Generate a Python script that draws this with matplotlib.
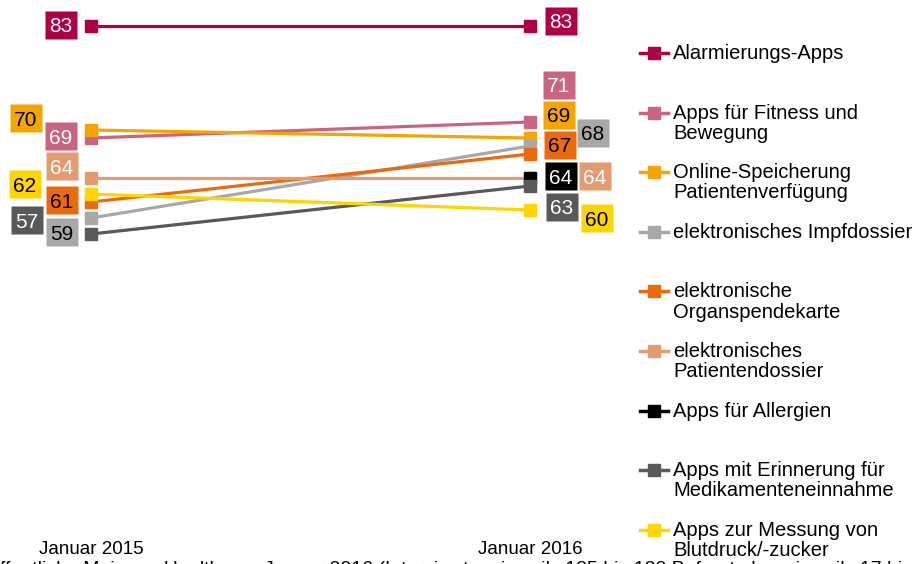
import numpy as np
import matplotlib
matplotlib.use("Agg")
import matplotlib.pyplot as plt
import matplotlib.transforms as mtransforms
from matplotlib.lines import Line2D
from matplotlib.path import Path

plt.rcParams["font.family"] = ["Liberation Sans", "DejaVu Sans"]

# --- data -------------------------------------------------------------
periods = ["Januar 2015", "Januar 2016"]
names = [
    "Alarmierungs-Apps",
    "Apps für Fitness und\nBewegung",
    "Online-Speicherung\nPatientenverfügung",
    "elektronisches Impfdossier",
    "elektronische\nOrganspendekarte",
    "elektronisches\nPatientendossier",
    "Apps für Allergien",
    "Apps mit Erinnerung für\nMedikamenteneinnahme",
    "Apps zur Messung von\nBlutdruck/-zucker",
]
values_2015 = [83, 69, 70, 59, 61, 64, np.nan, 57, 62]
values_2016 = [83, 71, 69, 68, 67, 64, 64, 63, 60]

# --- styles -----------------------------------------------------------
colors = ["#AE0045", "#C96580", "#F5A500", "#A8A8A8", "#EA6A0C",
          "#E39B72", "#000000", "#595959", "#FFD400"]
text_colors = ["white", "white", "black", "black", "black",
               "white", "white", "white", "black"]
# label box offsets from the marker, in pixels (dx, dy up)
offsets_2015 = [(-30, 1), (-30, 2), (-65, 12), (-29, -14), (-29, 2),
                (-29, 12), (0, 0), (-64, 14), (-66, 10)]
offsets_2016 = [(31, 5), (29, 37), (29, 23), (63, 13), (30, 9),
                (65, 2), (31, 2), (32, -21), (67, -8)]

W, H = 917, 564
fig = plt.figure(figsize=(W / 100, H / 100), dpi=100)
ax = fig.add_axes([0, 24 / H, 1, 540 / H])
ax.set_xlim(-91 / 439, (W - 91) / 439)
ax.set_ylim(18.75, 86.25)
for s in ax.spines.values():
    s.set_visible(False)
ax.set_yticks([])
ax.set_xticks([0, 1], periods)
ax.tick_params(axis="x", length=0, pad=1, labelsize=13.5)

box = Path([(-16, -14), (16, -14), (16, 14), (-16, 14), (-16, -14)],
           [Path.MOVETO, Path.LINETO, Path.LINETO, Path.LINETO, Path.CLOSEPOLY])

label_fs = 15
base_shift = -0.36 * label_fs * 100 / 72  # put digit centre on box centre

x = [0, 1]
for i in range(len(names)):
    ys = [values_2015[i], values_2016[i]]
    ax.plot(x, ys, color=colors[i], lw=2.3, marker="s", ms=8.7,
            mec=colors[i], solid_capstyle="butt", zorder=2 + i, clip_on=False)
    for xi, v, (dx, dy) in ((0, values_2015[i], offsets_2015[i]),
                            (1, values_2016[i], offsets_2016[i])):
        if np.isnan(v):
            continue
        tr = ax.transData + mtransforms.ScaledTranslation(dx / 100, dy / 100,
                                                          fig.dpi_scale_trans)
        ax.plot([xi], [v], marker=box, ms=23, color=colors[i], mec="none",
                transform=tr, zorder=20, clip_on=False)
        ttr = ax.transData + mtransforms.ScaledTranslation(
            dx / 100, (dy + base_shift) / 100, fig.dpi_scale_trans)
        ax.text(xi, v, f"{v:.0f}", transform=ttr, ha="center", va="baseline",
                color=text_colors[i], fontsize=label_fs, zorder=21)

# legend drawn by hand: one fixed-height slot per entry
leg_y0, leg_step = 53, 59.6
for i, name in enumerate(names):
    y = 1 - (leg_y0 + leg_step * i) / H
    fig.add_artist(Line2D([640 / W, 668 / W], [y, y], color=colors[i], lw=2.5))
    fig.add_artist(Line2D([654 / W], [y], marker="s", ms=9, color=colors[i]))
    fig.text(673 / W, y + 9 / H, name, va="top", ha="left",
             fontsize=14.5, linespacing=1.08)

fig.text(-15 / W, 1 - 558 / H,
         "Öffentliche Meinung Healthcare Januar 2016 (Interviewten, jeweils 125 bis 130 "
         "Befragte bzw. jeweils 17 bis 20)",
         va="top", ha="left", fontsize=14)

fig.savefig("out.png", dpi=100)
